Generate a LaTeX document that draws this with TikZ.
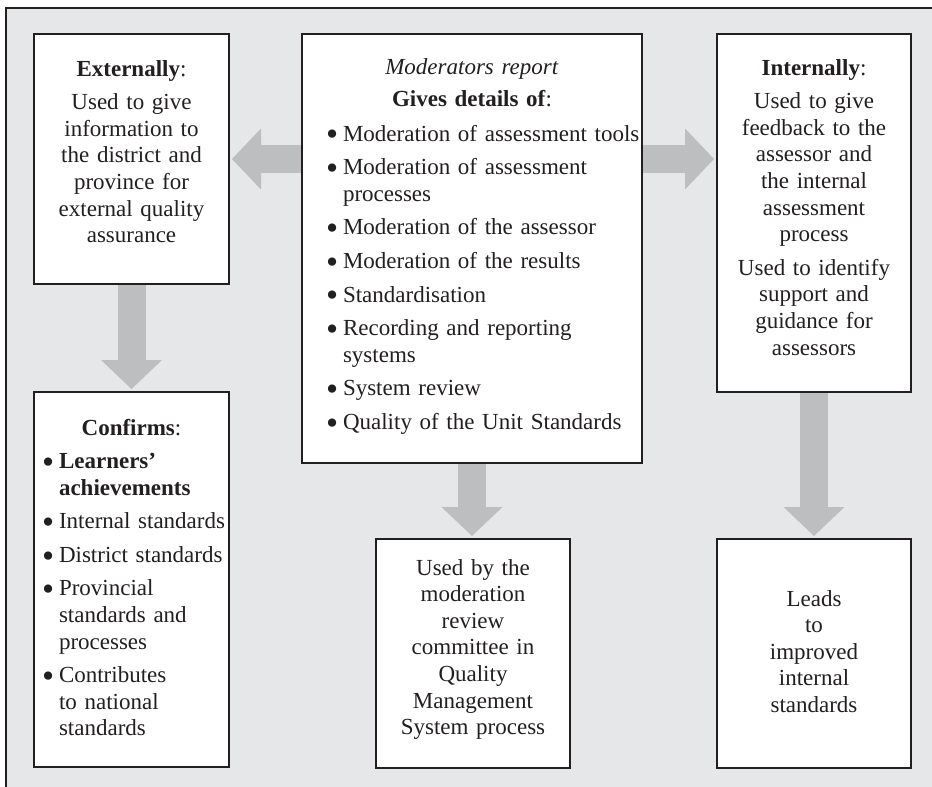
\documentclass[tikz,border=0pt]{standalone}
\usepackage{fontspec}
\setmainfont{Liberation Serif}
\usetikzlibrary{arrows.meta,calc}
\definecolor{bg}{HTML}{E6E7E8}
\definecolor{agray}{HTML}{BCBEC0}
\definecolor{ink}{HTML}{231F20}
\pgfdeclarelayer{back}
\pgfsetlayers{back,main}
\newlength{\bulw}
\newcommand{\bdot}{\raisebox{-4.7pt}{\fontsize{34.5}{26.6}\selectfont\textbullet}}
\newcommand{\bul}[1]{\makebox[16pt][l]{\hspace*{-1pt}\bdot}\parbox[t]{\bulw}{\raggedright #1\strut}\par\prevdepth=\dp\strutbox}
\begin{document}
\begin{tikzpicture}[x=1pt,y=-1pt,
  box/.style={draw=ink, line width=1.2pt, fill=white, inner sep=0pt, outer sep=0pt},
  txt/.style={inner sep=0pt, outer sep=0pt, text=ink, font=\fontsize{23}{26.6}\selectfont},
  ctxt/.style={txt, align=center, anchor=base},
  ltxt/.style={txt, anchor=base west},
  bigarrow/.style={draw=agray, line width=28pt, -{Triangle[length=29pt,width=61pt,line width=0pt]}, shorten >=3pt}]
\useasboundingbox (0,0) rectangle (932,787);
\begin{pgfonlayer}{back}
  \fill[bg] (6,8) rectangle (932,787);
  \draw[ink, line width=2.5pt] (6,787) -- (6,8) -- (932,8);
\end{pgfonlayer}
% boxes
\node[box, minimum width=195pt, minimum height=250pt] (ext) at (131.5,159) {};
\node[box, minimum width=340pt, minimum height=429pt] (cen) at (472,248.5) {};
\node[box, minimum width=194pt, minimum height=358pt] (int) at (814,213) {};
\node[box, minimum width=195pt, minimum height=375pt] (conf) at (131.5,579.5) {};
\node[box, minimum width=194pt, minimum height=229pt] (mid) at (473,653.5) {};
\node[box, minimum width=194pt, minimum height=229pt] (leads) at (814,653.5) {};
% texts
\node[ctxt, text width=190pt] (extT) at (131.5,76) {\textbf{Externally}:\\[7pt]Used to give\\information to\\the district and\\province for\\external quality\\assurance};
\node[ctxt, text width=190pt] (intT) at (814,75) {\textbf{Internally}:\\[7pt]Used to give\\feedback to the\\assessor and\\the internal\\assessment\\process\\[7pt]Used to identify\\support and\\guidance for\\assessors};
\node[ctxt, text width=330pt] (cenH) at (472,74) {\textit{Moderators report}\\[6pt]\textbf{Gives details of}:};
\node[ltxt, text width=340pt] (cenL) at (327,141) {\setlength{\parskip}{7pt}\setlength{\bulw}{320pt}%
\bul{Moderation of assessment tools}
\bul{Moderation of assessment\\processes}
\bul{Moderation of the assessor}
\bul{Moderation of the results}
\bul{Standardisation}
\bul{Recording and reporting\\systems}
\bul{System review}
\bul{Quality of the Unit Standards}};
\node[ctxt, text width=190pt] (confH) at (131.5,435) {\textbf{Confirms}:};
\node[ltxt, text width=220pt] (confL) at (43,468.5) {\setlength{\parskip}{7pt}\setlength{\bulw}{200pt}%
\bul{\textbf{Learners’}\\\textbf{achievements}}
\bul{Internal standards}
\bul{District standards}
\bul{Provincial\\standards and\\processes}
\bul{Contributes\\to national\\standards}};
\node[ctxt, text width=190pt] (midT) at (473,575) {Used by the\\moderation\\review\\committee in\\Quality\\Management\\System process};
\node[ctxt, text width=190pt] (leadsT) at (814,606) {Leads\\to\\improved\\internal\\standards};
% arrows
\begin{pgfonlayer}{back}
  \draw[bigarrow] (cen.west |- ext.east) -- (ext.east);
  \draw[bigarrow] (cen.east |- ext.east) -- (int.west |- ext.east);
  \draw[bigarrow] (ext.south) -- (conf.north);
  \draw[bigarrow] (cen.south) -- (cen.south |- mid.north);
  \draw[bigarrow] (int.south) -- (leads.north);
\end{pgfonlayer}
\end{tikzpicture}
\end{document}
